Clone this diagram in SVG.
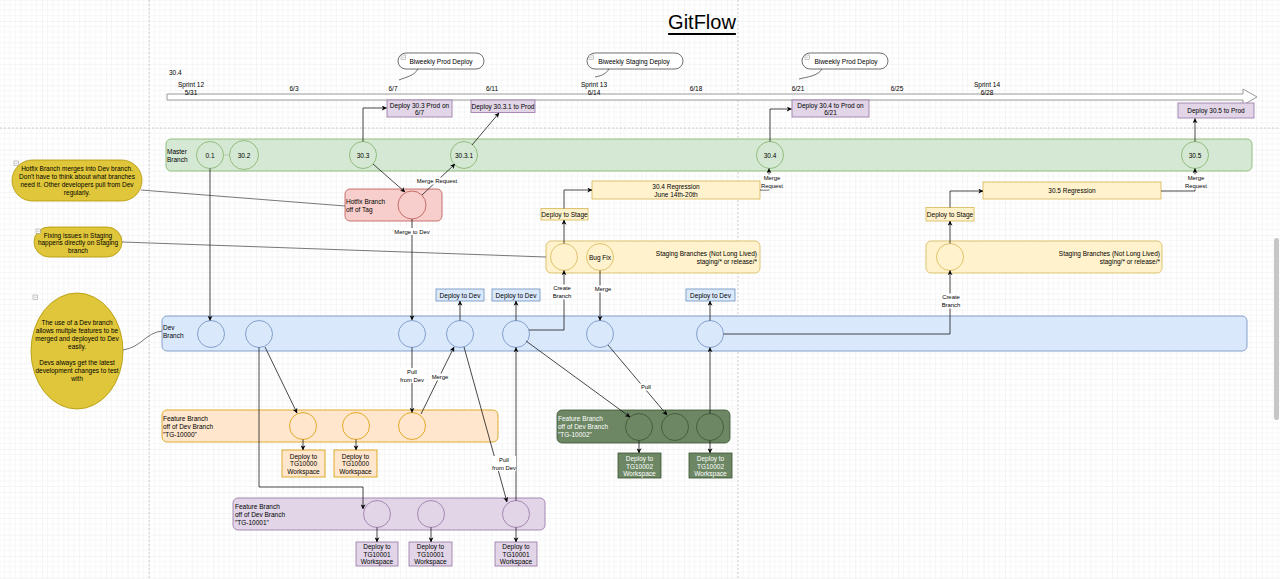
<svg xmlns="http://www.w3.org/2000/svg" width="1280" height="579" viewBox="0 0 1280 579">
<style>
.t{font-family:"Liberation Sans",Arial,Helvetica,sans-serif;font-size:6.5px;fill:#000;dominant-baseline:central}
.c{text-anchor:middle}
.r{text-anchor:end}
.e{font-size:5.9px}
.w{fill:#fff}
.cn{fill:none;stroke:#1a1a1a;stroke-width:0.8}
.ca{marker-end:url(#ah)}
.nl{fill:none;stroke:#555;stroke-width:0.8}
.lb{fill:#fff}
.gr{fill:#d5e8d4;stroke:#82b366;stroke-width:0.8}
.rd{fill:#f8cecc;stroke:#b85450;stroke-width:0.8}
.yl{fill:#fff2cc;stroke:#d6b656;stroke-width:0.8}
.bl{fill:#dae8fc;stroke:#6c8ebf;stroke-width:0.8}
.or{fill:#ffe6cc;stroke:#d79b00;stroke-width:0.8}
.pu{fill:#e1d5e7;stroke:#9673a6;stroke-width:0.8}
.dg{fill:#6d8764;stroke:#3a5431;stroke-width:0.8}
.nt{fill:#dfc63a;stroke:#b09500;stroke-width:0.8}
.mi{fill:#fff;stroke:#888;stroke-width:0.5}
.pb{stroke:#c4c4c4;stroke-width:0.8;stroke-dasharray:2,2;fill:none}
</style>
<defs>
<pattern id="grid" width="21.4" height="21.4" patternUnits="userSpaceOnUse" x="149" y="128">
<path d="M5.35,0V21.4M10.7,0V21.4M16.05,0V21.4M0,5.35H21.4M0,10.7H21.4M0,16.05H21.4" stroke="#efefef" stroke-width="0.5"/>
<path d="M0,0V21.4M0,0H21.4" stroke="#dedede" stroke-width="0.6"/>
</pattern>
<marker id="ah" viewBox="0 0 10 10" refX="9.5" refY="5" markerWidth="5" markerHeight="5" orient="auto" markerUnits="userSpaceOnUse">
<path d="M0,0 L10,5 L0,10 L3,5 z" fill="#000"/>
</marker>
</defs>

<rect width="1280" height="579" fill="#fff"/>
<rect width="1280" height="579" fill="url(#grid)"/>
<path class="pb" d="M149,0V579M738,0V579M0,128H1280"/>
<rect x="1274" y="238" width="5" height="182" rx="2.5" fill="#c6c6c6"/>

<g id="title">
<text class="t c" x="702" y="22" style="font-size:20px;text-decoration:underline">GitFlow</text>
</g>

<g id="timeline">
<path d="M167,94H1243V89L1257,97L1243,105V100H167Z" fill="#fff" stroke="#9a9a9a" stroke-width="1"/>
<text class="t" x="169" y="72">30.4</text>
<text class="t c" x="191" y="84">Sprint 12</text>
<text class="t c" x="191" y="92">5/31</text>
<text class="t c" x="294" y="88">6/3</text>
<text class="t c" x="393" y="88">6/7</text>
<text class="t c" x="492" y="88">6/11</text>
<text class="t c" x="594" y="84">Sprint 13</text>
<text class="t c" x="594" y="92">6/14</text>
<text class="t c" x="696" y="88">6/18</text>
<text class="t c" x="798" y="88">6/21</text>
<text class="t c" x="897" y="88">6/25</text>
<text class="t c" x="987" y="84">Sprint 14</text>
<text class="t c" x="987" y="92">6/28</text>
</g>

<g id="callout-prod-1">
<rect x="398" y="53" width="86" height="16" rx="8" fill="#fff" stroke="#333" stroke-width="0.7"/>
<path d="M418,69C414,76 406,77 399,80" fill="none" stroke="#333" stroke-width="0.7"/>
<rect class="mi" x="401" y="55" width="4.5" height="4.5"/><path d="M402,57.25H404.5" stroke="#888" stroke-width="0.5"/>
<text class="t c" x="441" y="61">Biweekly Prod Deploy</text>
</g>
<g id="callout-staging">
<rect x="587" y="53" width="96" height="16" rx="8" fill="#fff" stroke="#333" stroke-width="0.7"/>
<path d="M609,69C605,75 600,76 595,77" fill="none" stroke="#333" stroke-width="0.7"/>
<rect class="mi" x="589" y="55" width="4.5" height="4.5"/><path d="M590,57.25H592.5" stroke="#888" stroke-width="0.5"/>
<text class="t c" x="634" y="61">Biweekly Staging Deploy</text>
</g>
<g id="callout-prod-2">
<rect x="802" y="53" width="86" height="16" rx="8" fill="#fff" stroke="#333" stroke-width="0.7"/>
<path d="M822,69C818,76 807,77 799,79" fill="none" stroke="#333" stroke-width="0.7"/>
<rect class="mi" x="805" y="55" width="4.5" height="4.5"/><path d="M806,57.25H808.5" stroke="#888" stroke-width="0.5"/>
<text class="t c" x="846" y="61">Biweekly Prod Deploy</text>
</g>

<g id="deploy-30-3">
<rect class="pu" x="387" y="100" width="65" height="17"/>
<text class="t c" x="419.5" y="105">Deploy 30.3 Prod on</text>
<text class="t c" x="419.5" y="112.5">6/7</text>
</g>
<g id="deploy-30-3-1">
<rect class="pu" x="471" y="100" width="64" height="12.5"/>
<text class="t c" x="503" y="106.3">Deploy 30.3.1 to Prod</text>
</g>
<g id="deploy-30-4">
<rect class="pu" x="792" y="100" width="77" height="17"/>
<text class="t c" x="830.5" y="105">Deploy 30.4 to Prod on</text>
<text class="t c" x="830.5" y="112.5">6/21</text>
</g>
<g id="deploy-30-5">
<rect class="pu" x="1178" y="103" width="76" height="15"/>
<text class="t c" x="1216" y="110.5">Deploy 30.5 to Prod</text>
</g>

<g id="master-branch">
<rect class="gr" x="166" y="139" width="1086" height="32" rx="5"/>
<text class="t" x="167" y="151">Master</text>
<text class="t" x="167" y="159">Branch</text>
<circle class="gr" cx="210" cy="155" r="13.5"/><text class="t c" x="210" y="155">0.1</text>
<path d="M223.5,155H229.5" stroke="#82b366" stroke-width="0.8" stroke-dasharray="1,1"/>
<circle class="gr" cx="244" cy="155" r="14.5"/><text class="t c" x="244" y="155">30.2</text>
<circle class="gr" cx="363" cy="155" r="13.5"/><text class="t c" x="363" y="155">30.3</text>
<circle class="gr" cx="464" cy="155" r="13.5"/><text class="t c" x="464" y="155">30.3.1</text>
<circle class="gr" cx="770" cy="155" r="13.5"/><text class="t c" x="770" y="155">30.4</text>
<circle class="gr" cx="1195" cy="155" r="13.5"/><text class="t c" x="1195" y="155">30.5</text>
</g>

<g id="hotfix-branch">
<rect class="rd" x="345" y="189" width="97" height="32" rx="5"/>
<text class="t" x="346" y="201">Hotfix Branch</text>
<text class="t" x="346" y="209">off of Tag</text>
<circle class="rd" cx="412" cy="205" r="14"/>
</g>

<g id="note-hotfix">
<rect class="nt" x="12" y="160" width="130" height="41" rx="20.5"/>
<rect class="mi" x="14" y="161" width="4.5" height="4.5"/><path d="M15,163.25H17.5" stroke="#888" stroke-width="0.5"/>
<text class="t c" x="77" y="168.5">Hotfix Branch merges into Dev branch.</text>
<text class="t c" x="77" y="176.5">Don't have to think about what branches</text>
<text class="t c" x="77" y="184.3">need it. Other developers pull from Dev</text>
<text class="t c" x="77" y="192">regularly.</text>
</g>
<g id="note-staging">
<rect class="nt" x="34" y="227" width="88" height="30" rx="15"/>
<rect class="mi" x="36" y="229" width="4.5" height="4.5"/><path d="M37,231.25H39.5" stroke="#888" stroke-width="0.5"/>
<text class="t c" x="78" y="235">Fixing issues in Staging</text>
<text class="t c" x="78" y="242.5">happens directly on Staging</text>
<text class="t c" x="78" y="250">branch</text>
</g>
<g id="note-dev">
<ellipse class="nt" cx="77" cy="351" rx="46" ry="58"/>
<rect class="mi" x="33" y="295" width="4.5" height="4.5"/><path d="M34,297.25H36.5" stroke="#888" stroke-width="0.5"/>
<text class="t c" x="77" y="322.5">The use of a Dev branch</text>
<text class="t c" x="77" y="330.5">allows multple features to be</text>
<text class="t c" x="77" y="338.5">merged and deployed to Dev</text>
<text class="t c" x="77" y="346.5">easily.</text>
<text class="t c" x="77" y="362.5">Devs always get the latest</text>
<text class="t c" x="77" y="370.5">development changes to test</text>
<text class="t c" x="77" y="378.5">with</text>
</g>

<g id="staging-1">
<rect class="yl" x="546" y="241" width="214" height="32" rx="5"/>
<text class="t r" x="757" y="253">Staging Branches (Not Long Lived)</text>
<text class="t r" x="757" y="261">staging/* or release/*</text>
<circle class="yl" cx="564" cy="257" r="13.5"/>
<circle class="yl" cx="600" cy="257" r="13.5"/><text class="t c" x="600" y="257">Bug Fix</text>
</g>
<g id="deploy-stage-1">
<rect class="yl" x="541" y="208.5" width="47" height="11.5"/>
<text class="t c" x="564.5" y="214.3">Deploy to Stage</text>
</g>
<g id="regression-30-4">
<rect class="yl" x="592" y="181" width="168" height="18"/>
<text class="t c" x="676" y="186.5">30.4 Regression</text>
<text class="t c" x="676" y="194">June 14th-20th</text>
</g>
<g id="staging-2">
<rect class="yl" x="926" y="241" width="236" height="32" rx="5"/>
<text class="t r" x="1160" y="253">Staging Branches (Not Long Lived)</text>
<text class="t r" x="1160" y="261">staging/* or release/*</text>
<circle class="yl" cx="950" cy="257" r="13.5"/>
</g>
<g id="deploy-stage-2">
<rect class="yl" x="926" y="207.5" width="48" height="13.5"/>
<text class="t c" x="950" y="214.3">Deploy to Stage</text>
</g>
<g id="regression-30-5">
<rect class="yl" x="983" y="182" width="178" height="17"/>
<text class="t c" x="1072" y="190.5">30.5 Regression</text>
</g>

<g id="dev-branch">
<rect class="bl" x="162" y="316" width="1085" height="35" rx="5"/>
<text class="t" x="163" y="327">Dev</text>
<text class="t" x="163" y="335">Branch</text>
<circle class="bl" cx="211" cy="334" r="13.5"/>
<circle class="bl" cx="259" cy="334" r="13.5"/>
<circle class="bl" cx="412" cy="334" r="13.5"/>
<circle class="bl" cx="460" cy="334" r="13.5"/>
<circle class="bl" cx="516" cy="334" r="13.5"/>
<circle class="bl" cx="600" cy="334" r="13.5"/>
<circle class="bl" cx="710" cy="334" r="13.5"/>
</g>
<g id="deploy-dev-1">
<rect class="bl" x="436" y="289" width="48" height="12"/>
<text class="t c" x="460" y="295">Deploy to Dev</text>
</g>
<g id="deploy-dev-2">
<rect class="bl" x="492" y="289" width="48" height="12"/>
<text class="t c" x="516" y="295">Deploy to Dev</text>
</g>
<g id="deploy-dev-3">
<rect class="bl" x="686" y="289" width="49" height="12"/>
<text class="t c" x="710.5" y="295">Deploy to Dev</text>
</g>

<g id="feature-tg-10000">
<rect class="or" x="162" y="410" width="336" height="32" rx="5"/>
<text class="t" x="163" y="418">Feature Branch</text>
<text class="t" x="163" y="426">off of Dev Branch</text>
<text class="t" x="163" y="434">"TG-10000"</text>
<circle class="or" cx="303" cy="426" r="13.5"/>
<circle class="or" cx="356" cy="426" r="13.5"/>
<circle class="or" cx="412" cy="426" r="13.5"/>
</g>
<g id="ws-10000-a">
<rect class="or" x="282" y="450" width="43" height="27"/>
<text class="t c" x="303.5" y="456">Deploy to</text>
<text class="t c" x="303.5" y="463.5">TG10000</text>
<text class="t c" x="303.5" y="471">Workspace</text>
</g>
<g id="ws-10000-b">
<rect class="or" x="334" y="450" width="43" height="27"/>
<text class="t c" x="355.5" y="456">Deploy to</text>
<text class="t c" x="355.5" y="463.5">TG10000</text>
<text class="t c" x="355.5" y="471">Workspace</text>
</g>

<g id="feature-tg-10001">
<rect class="pu" x="233" y="498" width="312" height="32" rx="5"/>
<text class="t" x="235" y="506">Feature Branch</text>
<text class="t" x="235" y="514">off of Dev Branch</text>
<text class="t" x="235" y="522">"TG-10001"</text>
<circle class="pu" cx="377" cy="514" r="13.5"/>
<circle class="pu" cx="431" cy="514" r="13.5"/>
<circle class="pu" cx="516" cy="514" r="13.5"/>
</g>
<g id="ws-10001-a">
<rect class="pu" x="356" y="542" width="42" height="24"/>
<text class="t c" x="377" y="546.5">Deploy to</text>
<text class="t c" x="377" y="554">TG10001</text>
<text class="t c" x="377" y="561.5">Workspace</text>
</g>
<g id="ws-10001-b">
<rect class="pu" x="409" y="542" width="43" height="24"/>
<text class="t c" x="430.5" y="546.5">Deploy to</text>
<text class="t c" x="430.5" y="554">TG10001</text>
<text class="t c" x="430.5" y="561.5">Workspace</text>
</g>
<g id="ws-10001-c">
<rect class="pu" x="495" y="542" width="42" height="24"/>
<text class="t c" x="516" y="546.5">Deploy to</text>
<text class="t c" x="516" y="554">TG10001</text>
<text class="t c" x="516" y="561.5">Workspace</text>
</g>

<g id="feature-tg-10002">
<rect class="dg" x="557" y="410" width="173" height="33" rx="5"/>
<text class="t w" x="558" y="418">Feature Branch</text>
<text class="t w" x="558" y="426">off of Dev Branch</text>
<text class="t w" x="558" y="434">"TG-10002"</text>
<circle class="dg" cx="639" cy="427" r="13.5"/>
<circle class="dg" cx="675" cy="427" r="13.5"/>
<circle class="dg" cx="710" cy="427" r="13.5"/>
</g>
<g id="ws-10002-a">
<rect class="dg" x="618" y="453" width="43" height="25"/>
<text class="t c w" x="639.5" y="458.5">Deploy to</text>
<text class="t c w" x="639.5" y="466">TG10002</text>
<text class="t c w" x="639.5" y="473.5">Workspace</text>
</g>
<g id="ws-10002-b">
<rect class="dg" x="689" y="453" width="43" height="25"/>
<text class="t c w" x="710.5" y="458.5">Deploy to</text>
<text class="t c w" x="710.5" y="466">TG10002</text>
<text class="t c w" x="710.5" y="473.5">Workspace</text>
</g>

<g id="connectors">
<path class="nl" d="M141,190L345,206"/>
<path class="nl" d="M122,242L546,257"/>
<path class="nl" d="M123,350C142,347 145,333 162,331"/>

<path class="cn ca" d="M363,141.5V108H386.5"/>
<path class="cn ca" d="M472,145L499,113"/>
<path class="cn ca" d="M770,141.5V109H791.5"/>
<path class="cn ca" d="M1195,141.5V118.5"/>
<path class="cn ca" d="M373,164L405,192"/>
<path class="cn ca" d="M422,195L455,164"/>
<path class="cn ca" d="M412,219V320"/>
<path class="cn ca" d="M210,168.5V320.5"/>
<path class="cn ca" d="M259,347.5V487H363V509"/>
<path class="cn ca" d="M265,347L297,413"/>
<path class="cn ca" d="M412,347.5V412.5"/>
<path class="cn ca" d="M421,414L454,347"/>
<path class="cn ca" d="M464,347L507,502"/>
<path class="cn ca" d="M516,500.5V347.5"/>
<path class="cn ca" d="M460,320.5V301"/>
<path class="cn ca" d="M516,320.5V301"/>
<path class="cn ca" d="M710,320.5V301"/>
<path class="cn ca" d="M529,330H564V270.5"/>
<path class="cn ca" d="M526,341L630,417"/>
<path class="cn ca" d="M608,345L667,415"/>
<path class="cn ca" d="M600,270.5V320.5"/>
<path class="cn ca" d="M710,413.5V347.5"/>
<path class="cn ca" d="M723.5,334H950V270.5"/>
<path class="cn ca" d="M303,439.5V450"/>
<path class="cn ca" d="M356,439.5V450"/>
<path class="cn ca" d="M377,527.5V542"/>
<path class="cn ca" d="M431,527.5V542"/>
<path class="cn ca" d="M516,527.5V542"/>
<path class="cn ca" d="M639,440.5V453"/>
<path class="cn ca" d="M710,440.5V453"/>
<path class="cn ca" d="M564,243.5V220"/>
<path class="cn ca" d="M564,208.5V190H592"/>
<path class="cn ca" d="M760,190H769V168.5"/>
<path class="cn ca" d="M950,243.5V221"/>
<path class="cn ca" d="M950,207.5V191H983"/>
<path class="cn ca" d="M1161,191H1195V168.5"/>

<rect class="lb" x="416.5" y="177.5" width="41" height="7"/>
<text class="t c e" x="437" y="181">Merge Request</text>
<rect class="lb" x="394" y="228" width="36" height="7"/>
<text class="t c e" x="412" y="231.5">Merge to Dev</text>
<rect class="lb" x="400" y="368" width="24" height="15"/>
<text class="t c e" x="412" y="372">Pull</text>
<text class="t c e" x="412" y="379.5">from Dev</text>
<rect class="lb" x="431.5" y="373.5" width="17" height="7"/>
<text class="t c e" x="440" y="377">Merge</text>
<rect class="lb" x="492" y="456" width="24" height="15"/>
<text class="t c e" x="504" y="460">Pull</text>
<text class="t c e" x="504" y="467.5">from Dev</text>
<rect class="lb" x="552.5" y="284.5" width="19" height="15"/>
<text class="t c e" x="562" y="288">Create</text>
<text class="t c e" x="562" y="296">Branch</text>
<rect class="lb" x="594.5" y="285.5" width="17" height="7"/>
<text class="t c e" x="603" y="289">Merge</text>
<rect class="lb" x="640" y="383.5" width="12" height="7"/>
<text class="t c e" x="646" y="387">Pull</text>
<rect class="lb" x="941.5" y="293.5" width="19" height="15"/>
<text class="t c e" x="951" y="297">Create</text>
<text class="t c e" x="951" y="304.5">Branch</text>
<rect class="lb" x="761" y="174.5" width="22" height="15"/>
<text class="t c e" x="772" y="178">Merge</text>
<text class="t c e" x="772" y="186">Request</text>
<rect class="lb" x="1185" y="174.5" width="22" height="15"/>
<text class="t c e" x="1196" y="178">Merge</text>
<text class="t c e" x="1196" y="186">Request</text>
</g>
</svg>
